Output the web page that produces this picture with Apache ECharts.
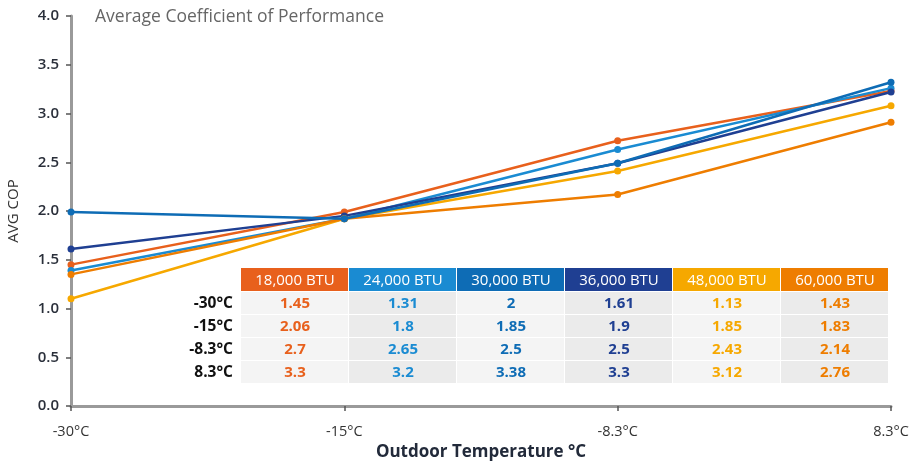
<!DOCTYPE html>
<html>
<head>
<meta charset="utf-8">
<script src="https://cdn.jsdelivr.net/npm/echarts@6/dist/echarts.min.js"></script>
<style>
  html, body { margin: 0; padding: 0; background: #fff; }
  #chart { width: 911px; height: 462px; }
</style>
</head>
<body>
<div id="chart"></div>
<script>
// x categories (outdoor temperature)
const temps = ['-30°C', '-15°C', '-8.3°C', '8.3°C'];
const units = ['18,000 BTU', '24,000 BTU', '30,000 BTU', '36,000 BTU', '48,000 BTU', '60,000 BTU'];
const colors = ['#e8601c', '#1a8bd2', '#0e6cb5', '#1f3f92', '#f6a800', '#ee7d00'];

// plotted line values
const cop18k = [1.45, 1.99, 2.72, 3.23];
const cop24k = [1.39, 1.92, 2.63, 3.26];
const cop30k = [1.99, 1.92, 2.49, 3.32];
const cop36k = [1.61, 1.95, 2.49, 3.22];
const cop48k = [1.10, 1.92, 2.41, 3.08];
const cop60k = [1.35, 1.92, 2.17, 2.91];
const lines = [cop18k, cop24k, cop30k, cop36k, cop48k, cop60k];

// values printed in the overlay table (one list per unit)
const tbl18k = ['1.45', '2.06', '2.7', '3.3'];
const tbl24k = ['1.31', '1.8', '2.65', '3.2'];
const tbl30k = ['2', '1.85', '2.5', '3.38'];
const tbl36k = ['1.61', '1.9', '2.5', '3.3'];
const tbl48k = ['1.13', '1.85', '2.43', '3.12'];
const tbl60k = ['1.43', '1.83', '2.14', '2.76'];
const tables = [tbl18k, tbl24k, tbl30k, tbl36k, tbl48k, tbl60k];

const FONT = '"Open Sans", sans-serif';

// table overlay built as graphic elements
function buildTable() {
    const x0 = 241, y0 = 268, colW = 108, headH = 23, rowH = 23;
    const els = [];
    units.forEach((u, c) => {
        const x = x0 + c * colW;
        els.push({ type: 'rect', shape: { x: x, y: y0, width: colW - 1, height: headH }, style: { fill: colors[c] }, z: 100 });
        els.push({ type: 'text', x: x + colW / 2, y: y0 + headH / 2 + 1, z: 101,
            style: { text: u, fill: '#fff', font: '500 15px ' + FONT, align: 'center', verticalAlign: 'middle' } });
        tables[c].forEach((v, r) => {
            const y = y0 + headH + 1 + r * rowH;
            els.push({ type: 'rect', shape: { x: x, y: y, width: colW - 1, height: rowH - 1 },
                style: { fill: c % 2 ? '#ebebeb' : '#f4f4f4' }, z: 100 });
            els.push({ type: 'text', x: x + colW / 2, y: y + rowH / 2, z: 101,
                style: { text: v, fill: colors[c], font: 'bold 15px ' + FONT, align: 'center', verticalAlign: 'middle' } });
        });
    });
    temps.forEach((t, r) => {
        const y = y0 + headH + 1 + r * rowH;
        els.push({ type: 'text', x: x0 - 8, y: y + rowH / 2, z: 101,
            style: { text: t, fill: '#111', font: 'bold 15.5px ' + FONT, align: 'right', verticalAlign: 'middle' } });
    });
    return els;
}

const chart = echarts.init(document.getElementById('chart'), null, { renderer: 'canvas' });
chart.setOption({
    animation: false,
    backgroundColor: '#fff',
    title: {
        text: 'Average Coefficient of Performance',
        left: 90, top: 3,
        textStyle: { color: '#666', fontSize: 17.5, fontWeight: 'normal', fontFamily: FONT }
    },
    grid: { left: 71, right: 20, top: 16, bottom: 56, outerBoundsMode: 'none', containLabel: false },
    xAxis: {
        type: 'category',
        data: temps,
        boundaryGap: false,
        name: 'Outdoor Temperature °C',
        nameLocation: 'middle',
        nameGap: 38,
        nameTextStyle: { color: '#222a3a', fontSize: 17, fontWeight: 'bold', fontFamily: FONT },
        axisLine: { lineStyle: { color: '#9a9a9a', width: 3 } },
        axisTick: { show: true, length: 5, lineStyle: { color: '#555', width: 1.5 } },
        axisLabel: { color: '#333', fontSize: 14.5, fontFamily: FONT, margin: 18 },
        splitLine: { show: false }
    },
    yAxis: {
        type: 'value',
        min: 0, max: 4, interval: 0.5,
        name: 'AVG COP',
        nameLocation: 'middle',
        nameGap: 50,
        nameTextStyle: { color: '#333', fontSize: 15, fontFamily: FONT },
        axisLine: { show: true, lineStyle: { color: '#9a9a9a', width: 3 } },
        axisTick: { show: true, length: 5, lineStyle: { color: '#555', width: 1.5 } },
        axisLabel: { color: '#2a2f3a', fontSize: 15, fontWeight: 600, fontFamily: FONT, margin: 12,
            formatter: (v) => v.toFixed(1) },
        splitLine: { show: false }
    },
    series: units.map((u, i) => ({
        name: u,
        type: 'line',
        data: lines[i],
        symbol: 'circle',
        symbolSize: 7,
        lineStyle: { width: 2.5, color: colors[i] },
        itemStyle: { color: colors[i] },
        z: i === 2 ? 3 : 2
    })),
    graphic: buildTable()
});
</script>
</body>
</html>
